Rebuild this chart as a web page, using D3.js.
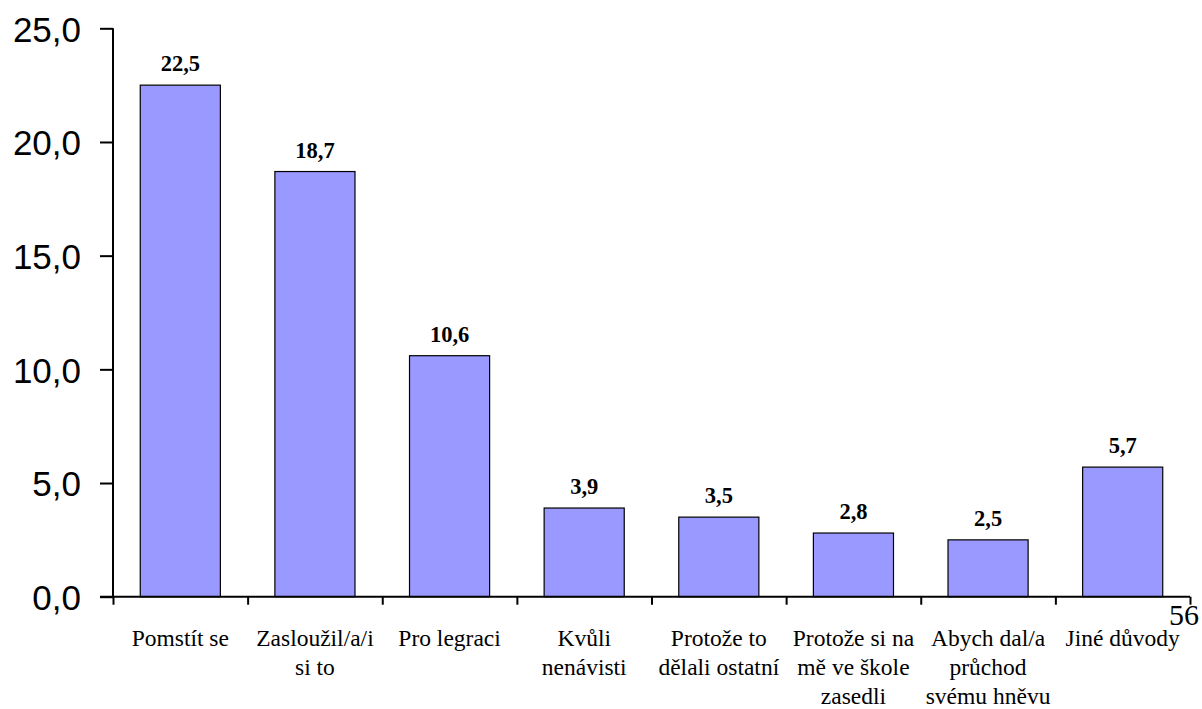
<!DOCTYPE html>
<html>
<head>
<meta charset="utf-8">
<script src="https://cdn.jsdelivr.net/npm/d3@7"></script>
<style>
  html, body { margin: 0; padding: 0; background: #fff; }
  svg { display: block; }
</style>
</head>
<body>
<svg id="chart" width="1202" height="709"></svg>
<script>
const categories = [
  ["Pomstít se"],
  ["Zasloužil/a/i", "si to"],
  ["Pro legraci"],
  ["Kvůli", "nenávisti"],
  ["Protože to", "dělali ostatní"],
  ["Protože si na", "mě ve škole", "zasedli"],
  ["Abych dal/a", "průchod", "svému hněvu"],
  ["Jiné důvody"]
];
const values = [22.5, 18.7, 10.6, 3.9, 3.5, 2.8, 2.5, 5.7];
const yTicks = [0, 5, 10, 15, 20, 25];
const pageNumber = "56";

(function () {
const SERIF = "Liberation Serif";
const SANS = "Liberation Sans";
const svg = d3.select("#chart");
const mLeft = 113, mRight = 1190, mTop = 28.3, mBottom = 596.7;
const ids = categories.map((c, i) => i);

const x = d3.scaleBand().domain(ids).range([mLeft, mRight]).padding(0);
const y = d3.scaleLinear().domain([0, 25]).range([mBottom, mTop]);
const fmt = v => d3.format(".1f")(v).replace(".", ",");
const barW = x.bandwidth() * 0.595;

// bars
svg.append("g").selectAll("rect").data(values).join("rect")
  .attr("x", (d, i) => x(i) + (x.bandwidth() - barW) / 2)
  .attr("y", d => y(d))
  .attr("width", barW)
  .attr("height", d => y(0) - y(d))
  .attr("fill", "#9999FF")
  .attr("stroke", "#000")
  .attr("stroke-width", 1.2);

// value labels
svg.append("g").selectAll("text").data(values).join("text")
  .attr("x", (d, i) => x(i) + x.bandwidth() / 2)
  .attr("y", d => y(d) - 14)
  .attr("text-anchor", "middle")
  .attr("font-family", SERIF)
  .attr("font-weight", "bold")
  .attr("font-size", 22.5)
  .attr("fill", "#000")
  .text(d => fmt(d));

// y axis
const yAxis = d3.axisLeft(y).tickValues(yTicks).tickFormat(fmt).tickSize(13).tickPadding(19);
const gy = svg.append("g").attr("transform", `translate(${mLeft},0)`).call(yAxis);
gy.attr("font-family", SANS).attr("font-size", 35);
gy.select(".domain").attr("stroke-width", 2).attr("d", `M0,${mTop}V${mBottom}`);
gy.selectAll(".tick line").attr("stroke-width", 2);
gy.selectAll(".tick text").attr("fill", "#000").attr("dy", "0.37em");

// x axis
const xEdge = d3.scaleLinear().domain([0, categories.length]).range([mLeft, mRight]);
const xAxis = d3.axisBottom(xEdge).tickValues(d3.range(categories.length + 1)).tickSize(8).tickFormat("");
const gx = svg.append("g").attr("transform", `translate(0,${mBottom})`).call(xAxis);
gx.select(".domain").attr("stroke-width", 2).attr("d", `M${mLeft - 13},0H${mRight}`);
gx.selectAll(".tick line").attr("stroke-width", 2);

// category labels
const lab = svg.append("g").attr("text-anchor", "middle");
categories.forEach((lines, i) => {
  const cx = x(i) + x.bandwidth() / 2;
  const t = lab.append("text").attr("font-family", SERIF).attr("font-size", 23.5)
    .attr("fill", "#000").attr("x", cx).attr("y", 646);
  lines.forEach((line, j) => {
    t.append("tspan").attr("x", cx).attr("y", 646 + j * 29).text(line);
  });
});

// page number
svg.append("text")
  .attr("x", 1199).attr("y", 625)
  .attr("text-anchor", "end")
  .attr("font-family", SERIF)
  .attr("font-size", 30)
  .attr("fill", "#000")
  .text(pageNumber);
})();
</script>
</body>
</html>
